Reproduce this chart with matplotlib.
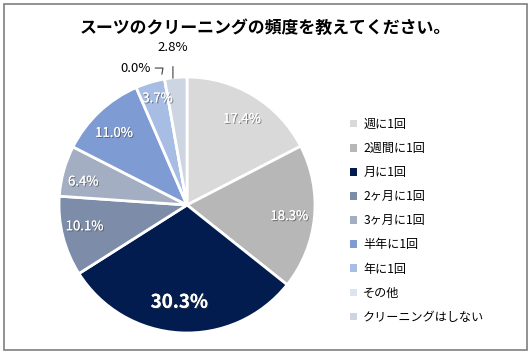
import numpy as np
import matplotlib.pyplot as plt
from matplotlib.patches import Rectangle
import matplotlib.patheffects as pe

plt.rcParams['font.family'] = ['Noto Sans CJK JP', 'DejaVu Sans']

labels = ['週に1回', '2週間に1回', '月に1回', '2ヶ月に1回', '3ヶ月に1回',
          '半年に1回', '年に1回', 'その他', 'クリーニングはしない']
values = [17.4, 18.3, 30.3, 10.1, 6.4, 11.0, 3.7, 0.0, 2.8]
colors = ['#d9d9d9', '#b7b7b7', '#021c50', '#7d8ca8', '#a3aec2',
          '#7f9bd3', '#a8bde4', '#dae5f4', '#cdd5e2']

fig = plt.figure(figsize=(5.31, 3.54), dpi=100)
fig.patches.append(Rectangle((0.008, 0.012), 0.984, 0.976, transform=fig.transFigure,
                             fill=False, edgecolor='#7f7f7f', lw=1.2))

ax = fig.add_axes([58/531, 1-333/354, 258/531, 256/354])
wedges, _ = ax.pie(values, colors=colors, startangle=90, counterclock=False,
                   wedgeprops=dict(edgecolor='white', linewidth=2))
ax.set_xlim(-1, 1)
ax.set_ylim(-1, 1)
ax.set_aspect('equal')

shadow = [pe.withSimplePatchShadow(offset=(0.8, -0.8), shadow_rgbFace='#404040', alpha=0.6), pe.Normal()]
# label spots inside the slices (data units of the pie)
pos = {0: (0.43, 0.67), 1: (0.80, -0.09), 2: (-0.06, -0.76), 3: (-0.80, -0.17),
       4: (-0.81, 0.18), 5: (-0.57, 0.56), 6: (-0.23, 0.83)}
for i, v in enumerate(values):
    txt = f'{v:.1f}%'
    if i in pos:
        big = (i == 2)
        ax.text(*pos[i], txt, ha='center', va='center', color='white',
                fontsize=13.5 if big else 9.5, fontweight='bold' if big else 'normal',
                path_effects=shadow)
    elif i == 7:
        ax.annotate(txt, xy=(-0.2, 1.0), xytext=(-0.40, 1.07), ha='center', va='center',
                    fontsize=9.5, color='#000000', annotation_clip=False,
                    arrowprops=dict(arrowstyle='-', color='#404040', lw=0.8, shrinkA=1,
                                    connectionstyle='angle,angleA=0,angleB=80,rad=0'))
    else:
        ax.annotate(txt, xy=(-0.11, 0.99), xytext=(-0.11, 1.23), ha='center', va='center',
                    fontsize=9.5, color='#000000', annotation_clip=False,
                    arrowprops=dict(arrowstyle='-', color='#404040', lw=0.8, shrinkA=7, shrinkB=0))

fig.text(0.5, 1-28/354, 'スーツのクリーニングの頻度を教えてください。', ha='center', va='center',
         fontsize=12.2, fontweight='bold')

leg = ax.legend(wedges, labels, loc='upper left', bbox_to_anchor=(339/531, 1-107/354),
                bbox_transform=fig.transFigure, frameon=False, fontsize=8.7,
                handlelength=0.6, handleheight=0.6, handletextpad=0.5, labelspacing=0.92)
for h in leg.legend_handles:
    h.set_edgecolor('none')

fig.savefig('out.png', dpi=100)
